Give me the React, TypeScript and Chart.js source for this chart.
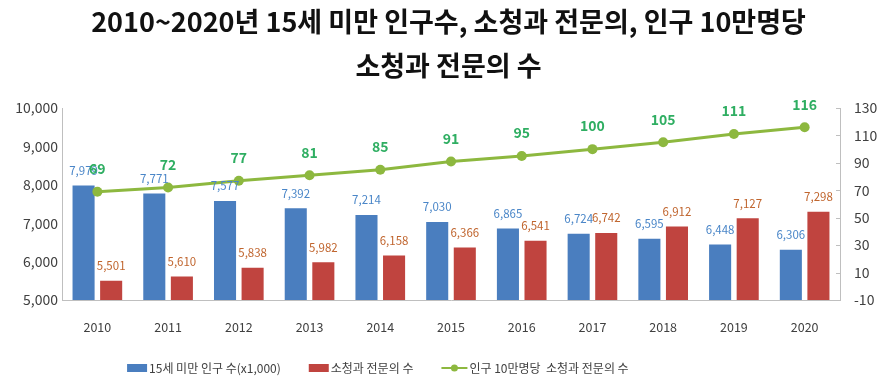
import React, { useEffect, useRef } from "react";
import { Chart, registerables } from "chart.js";
Chart.register(...registerables);

const years = ["2010", "2011", "2012", "2013", "2014", "2015", "2016", "2017", "2018", "2019", "2020"];
const childrenUnder15 = [7979, 7771, 7577, 7392, 7214, 7030, 6865, 6724, 6595, 6448, 6306];
const pediatricians = [5501, 5610, 5838, 5982, 6158, 6366, 6541, 6742, 6912, 7127, 7298];
const per100k = [69, 72, 77, 81, 85, 91, 95, 100, 105, 111, 116];
const titleLines = ["2010~2020년 15세 미만 인구수, 소청과 전문의, 인구 10만명당", "소청과 전문의 수"];
const seriesNames = ["15세 미만 인구 수(x1,000)", "소청과 전문의 수", "인구 10만명당  소청과 전문의 수"];
const leftAxis = { min: 5000, max: 10000, step: 1000 };
const rightAxis = { min: -10, max: 130, step: 20 };

const FONT = '"Noto Sans CJK KR", "Noto Sans", sans-serif';
const BLUE = "#4a7ebf";
const RED = "#c0443f";
const GREEN = "#8db83f";
const AXIS = "#bfbfbf";
const TEXT = "#404040";

const labelStyles: Record<string, { font: string; color: string; offset: number }> = {
  children: { font: `11.5px ${FONT}`, color: "#4a86c8", offset: 15 },
  peds: { font: `11.5px ${FONT}`, color: "#c0652e", offset: 15 },
  rate: { font: `bold 14px ${FONT}`, color: "#2fae62", offset: 23 },
};

const valueLabels = {
  id: "valueLabels",
  afterDatasetsDraw(chart: any) {
    const ctx = chart.ctx;
    chart.data.datasets.forEach((ds: any, i: number) => {
      const st = labelStyles[ds.key];
      const meta = chart.getDatasetMeta(i);
      meta.data.forEach((el: any, j: number) => {
        const { x, y } = el.getProps(["x", "y"], true);
        ctx.save();
        ctx.font = st.font;
        ctx.fillStyle = st.color;
        ctx.textAlign = "center";
        ctx.textBaseline = "middle";
        ctx.fillText(Number(ds.data[j]).toLocaleString("en-US"), x, y - st.offset);
        ctx.restore();
      });
    });
  },
};

const rightTicks = {
  id: "rightTicks",
  afterDraw(chart: any) {
    const s = chart.scales.y1;
    const ctx = chart.ctx;
    ctx.save();
    ctx.strokeStyle = AXIS;
    ctx.lineWidth = 1;
    s.ticks.forEach((t: any) => {
      const y = Math.round(s.getPixelForValue(t.value)) + 0.5;
      ctx.beginPath();
      ctx.moveTo(s.left - 4, y);
      ctx.lineTo(s.left, y);
      ctx.stroke();
    });
    ctx.restore();
  },
};

const customLegend = {
  id: "customLegend",
  afterDraw(chart: any) {
    const ctx = chart.ctx;
    const colors = [BLUE, RED, GREEN];
    const markerW = [20, 20, 26];
    const gapMarker = 2;
    const gapItem = 28;
    ctx.save();
    ctx.font = `12px ${FONT}`;
    const widths = seriesNames.map((n) => ctx.measureText(n).width);
    const total = widths.reduce((a, w, i) => a + markerW[i] + gapMarker + w, 0) + gapItem * (seriesNames.length - 1);
    const ca = chart.chartArea;
    const cx = ca.left + (ca.right - ca.left) * 0.406;
    let x = cx - total / 2;
    const y = chart.height - 11;
    seriesNames.forEach((n, i) => {
      ctx.fillStyle = colors[i];
      ctx.strokeStyle = colors[i];
      if (i < 2) {
        ctx.fillRect(x, y - 4, markerW[i], 8);
      } else {
        ctx.lineWidth = 2;
        ctx.beginPath();
        ctx.moveTo(x, y);
        ctx.lineTo(x + markerW[i], y);
        ctx.stroke();
        ctx.beginPath();
        ctx.arc(x + markerW[i] / 2, y, 3.5, 0, Math.PI * 2);
        ctx.fill();
      }
      x += markerW[i] + gapMarker;
      ctx.fillStyle = TEXT;
      ctx.textAlign = "left";
      ctx.textBaseline = "middle";
      ctx.fillText(n, x, y);
      x += widths[i] + gapItem;
    });
    ctx.restore();
  },
};

export default function App() {
  const ref = useRef<HTMLCanvasElement>(null);
  useEffect(() => {
    document.body.style.margin = "0";
    const chart = new Chart(ref.current!, {
      type: "bar",
      data: {
        labels: years,
        datasets: [
          {
            key: "children",
            type: "bar",
            label: seriesNames[0],
            data: childrenUnder15,
            backgroundColor: BLUE,
            yAxisID: "y",
            order: 2,
            categoryPercentage: 0.78,
            barPercentage: 0.8,
          } as any,
          {
            key: "peds",
            type: "bar",
            label: seriesNames[1],
            data: pediatricians,
            backgroundColor: RED,
            yAxisID: "y",
            order: 2,
            categoryPercentage: 0.78,
            barPercentage: 0.8,
          } as any,
          {
            key: "rate",
            type: "line",
            label: seriesNames[2],
            data: per100k,
            borderColor: GREEN,
            backgroundColor: GREEN,
            borderWidth: 3,
            pointRadius: 5,
            pointBackgroundColor: GREEN,
            pointBorderWidth: 0,
            yAxisID: "y1",
            order: 0,
          } as any,
        ],
      },
      options: {
        responsive: false,
        animation: false,
        layout: { padding: { left: 8, right: 0, top: 0, bottom: 24 } },
        plugins: {
          tooltip: { enabled: false },
          legend: { display: false },
          title: {
            display: true,
            text: titleLines,
            color: "#111111",
            font: { family: FONT, size: 27, weight: "bold", lineHeight: 1.63 },
            padding: { top: 0, bottom: 20 },
          },
        },
        scales: {
          x: {
            grid: { display: false, drawTicks: false },
            border: { color: AXIS },
            ticks: { color: TEXT, font: { family: FONT, size: 12.5 }, padding: 20 },
          },
          y: {
            position: "left",
            min: leftAxis.min,
            max: leftAxis.max,
            ticks: {
              stepSize: leftAxis.step,
              color: TEXT,
              font: { family: FONT, size: 14 },
              padding: 4,
              callback: (v: any) => Number(v).toLocaleString("en-US"),
            },
            grid: { drawOnChartArea: false, drawTicks: false },
            border: { color: AXIS },
            afterFit: (s: any) => {
              s.width = 54;
            },
          },
          y1: {
            position: "right",
            min: rightAxis.min,
            max: rightAxis.max,
            ticks: { stepSize: rightAxis.step, color: TEXT, font: { family: FONT, size: 14 }, padding: 14 },
            grid: { drawOnChartArea: false, drawTicks: false },
            border: { color: AXIS },
            afterFit: (s: any) => {
              s.width = 49;
            },
          },
        },
      } as any,
      plugins: [valueLabels, rightTicks, customLegend],
    });
    return () => chart.destroy();
  }, []);
  return (
    <div style={{ width: 889, height: 379, background: "#fff" }}>
      <canvas ref={ref} width={889} height={379} />
    </div>
  );
}
